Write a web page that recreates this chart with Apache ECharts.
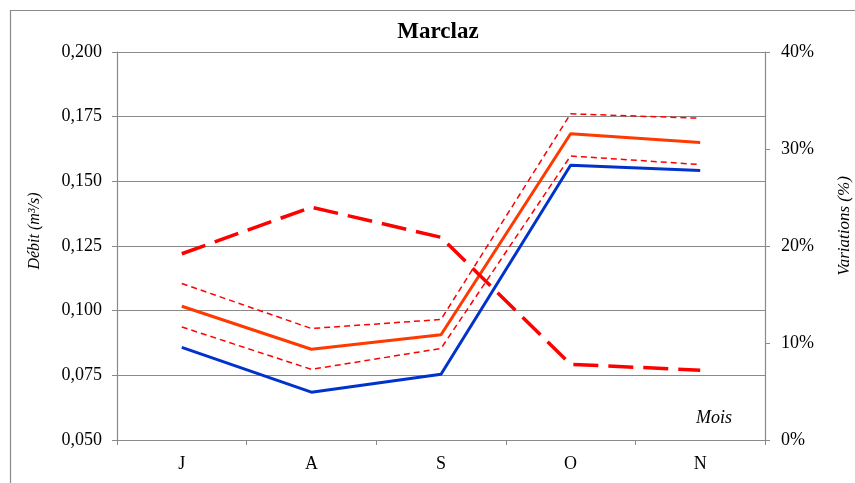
<!DOCTYPE html>
<html>
<head>
<meta charset="utf-8">
<script src="https://cdn.jsdelivr.net/npm/echarts@6/dist/echarts.min.js"></script>
<style>
  html, body { margin: 0; padding: 0; background: #fff; }
  #chart { width: 855px; height: 483px; }
</style>
</head>
<body>
<div id="chart"></div>
<script>
// ---- Data ----
const months = ['J', 'A', 'S', 'O', 'N'];
const debitBlue = [0.0858, 0.0685, 0.0754, 0.1562, 0.1542];
const debitOrange = [0.1017, 0.0851, 0.0907, 0.1684, 0.1650];
const debitUpper = [0.1105, 0.0931, 0.0966, 0.1761, 0.1744];
const debitLower = [0.0937, 0.0773, 0.0854, 0.1598, 0.1565];
const variations = [19.2, 24.0, 20.9, 7.8, 7.2];
const leftTicks = { min: 0.05, max: 0.2, interval: 0.025 };
const rightTicks = { min: 0, max: 40, interval: 10 };

const FONT = 'Liberation Serif';
const GRAY = '#8a8a8a';

const chart = echarts.init(document.getElementById('chart'), null, { renderer: 'canvas' });

chart.setOption({
  backgroundColor: '#ffffff',
  animation: false,
  title: {
    text: 'Marclaz',
    left: 433, top: 16, textAlign: 'center',
    textStyle: { fontFamily: FONT, fontWeight: 'bold', fontSize: 23, color: '#000' }
  },
  grid: { left: 117, right: 90, top: 52, bottom: 43 },
  graphic: [
    { type: 'rect', shape: { x: 10.5, y: 10.5, width: 900, height: 600 },
      style: { fill: 'none', stroke: GRAY, lineWidth: 1.2 }, z: -1 },
    { type: 'text', x: 35, y: 231, rotation: Math.PI / 2,
      style: { text: 'Débit (m³/s)', fontFamily: FONT, fontStyle: 'italic', fontSize: 16,
               fill: '#000', align: 'center', verticalAlign: 'middle' } },
    { type: 'text', x: 845, y: 226, rotation: Math.PI / 2,
      style: { text: 'Variations (%)', fontFamily: FONT, fontStyle: 'italic', fontSize: 17,
               fill: '#000', align: 'center', verticalAlign: 'middle' } },
    { type: 'text', x: 714, y: 418,
      style: { text: 'Mois', fontFamily: FONT, fontStyle: 'italic', fontSize: 18,
               fill: '#000', align: 'center', verticalAlign: 'middle' } }
  ],
  xAxis: {
    type: 'category',
    data: months,
    boundaryGap: true,
    axisLine: { lineStyle: { color: GRAY, width: 1.2 } },
    axisTick: { show: true, length: 5, alignWithLabel: false, lineStyle: { color: GRAY } },
    axisLabel: { fontFamily: FONT, fontSize: 18, color: '#000', margin: 15 },
    splitLine: { show: false }
  },
  yAxis: [
    {
      type: 'value', position: 'left',
      min: leftTicks.min, max: leftTicks.max, interval: leftTicks.interval,
      axisLine: { show: true, lineStyle: { color: GRAY, width: 1.2 } },
      axisTick: { show: true, length: 5, lineStyle: { color: GRAY } },
      axisLabel: { fontFamily: FONT, fontSize: 18, color: '#000', margin: 15,
                   formatter: v => v.toFixed(3).replace('.', ',') },
      splitLine: { show: true, lineStyle: { color: GRAY, width: 1.2 } }
    },
    {
      type: 'value', position: 'right',
      min: rightTicks.min, max: rightTicks.max, interval: rightTicks.interval,
      axisLine: { show: true, lineStyle: { color: GRAY, width: 1.2 } },
      axisTick: { show: true, length: 5, lineStyle: { color: GRAY } },
      axisLabel: { fontFamily: FONT, fontSize: 18, color: '#000', margin: 16,
                   formatter: v => Math.round(v) + '%' },
      splitLine: { show: false }
    }
  ],
  series: [
    { name: 'Débit', type: 'line', data: debitBlue, yAxisIndex: 0, symbol: 'none',
      lineStyle: { color: '#0033CC', width: 3 } },
    { name: 'Débit corrigé', type: 'line', data: debitOrange, yAxisIndex: 0, symbol: 'none',
      lineStyle: { color: '#FF3A00', width: 3 } },
    { name: 'Borne sup.', type: 'line', data: debitUpper, yAxisIndex: 0, symbol: 'none',
      lineStyle: { color: '#FF0000', width: 1.5, type: [6, 4] } },
    { name: 'Borne inf.', type: 'line', data: debitLower, yAxisIndex: 0, symbol: 'none',
      lineStyle: { color: '#FF0000', width: 1.5, type: [6, 4] } },
    { name: 'Variations', type: 'line', data: variations, yAxisIndex: 1, symbol: 'none',
      lineStyle: { color: '#FF0000', width: 3.5, type: [25, 10] } }
  ]
});
</script>
</body>
</html>
